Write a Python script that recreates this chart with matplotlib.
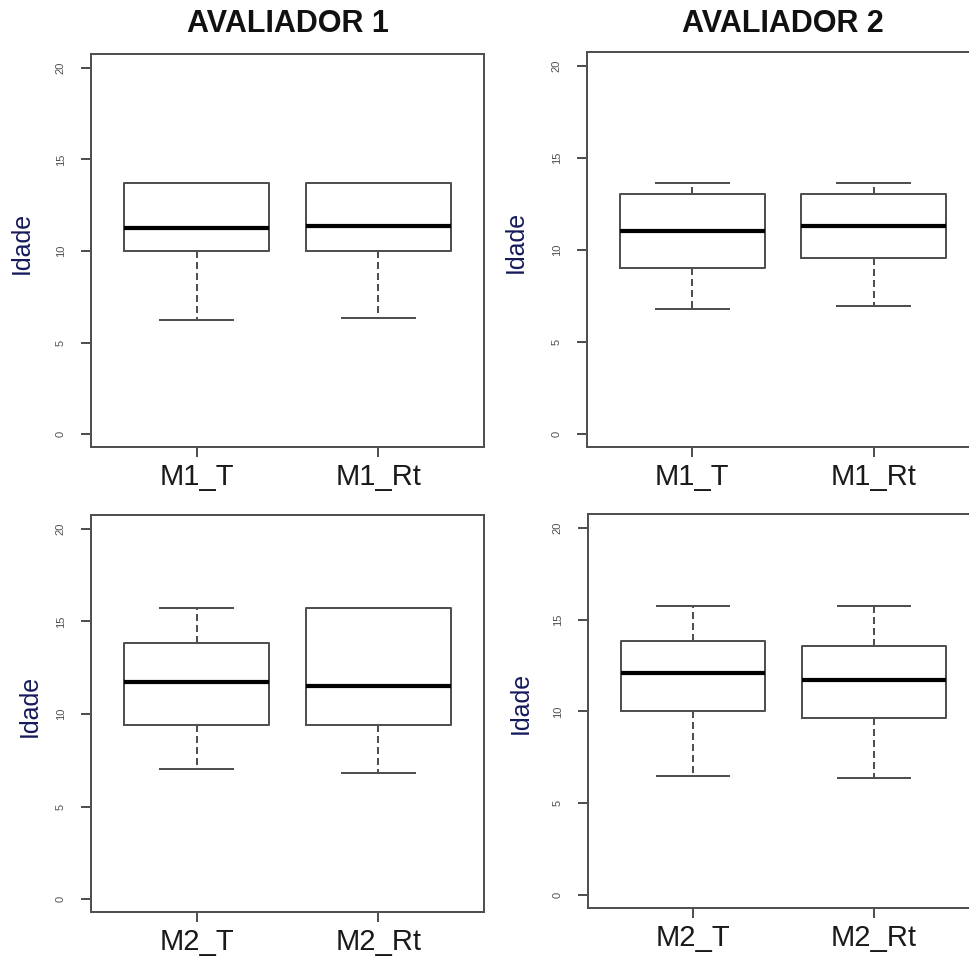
import matplotlib
matplotlib.use("Agg")
import matplotlib.pyplot as plt

plt.rcParams['font.family'] = ['Liberation Sans', 'DejaVu Sans']

W, H = 969, 959

# ---- data ----
titles = ["AVALIADOR 1", "AVALIADOR 2"]
labels_top = ["M1_T", "M1_Rt"]
labels_bottom = ["M2_T", "M2_Rt"]
y_label = "Idade"
y_ticks = [0, 5, 10, 15, 20]

# panel order: A1-M1, A2-M1, A1-M2, A2-M2
med = [[11.23, 11.38], [11.05, 11.28], [11.70, 11.53], [12.09, 11.71]]
q1 = [[10.0, 10.0], [9.02, 9.56], [9.43, 9.43], [10.0, 9.67]]
q3 = [[13.7, 13.7], [13.04, 13.04], [13.84, 15.72], [13.84, 13.57]]
whislo = [[6.25, 6.36], [6.79, 6.96], [7.04, 6.82], [6.51, 6.40]]
whishi = [[13.7, 13.7], [13.64, 13.64], [15.72, 15.72], [15.73, 15.73]]

# ---- layout (pixels) ----
panels_px = [  # left, top, right, bottom
    (91, 54, 484, 447),
    (587, 52, 979, 447),
    (91, 515, 484, 912),
    (588, 514, 979, 908),
]
ylab_x = [-0.145, -0.151, -0.125, -0.141]

fig = plt.figure(figsize=(W / 100, H / 100), dpi=100)
fig.patch.set_facecolor('white')

edge = '#505050'
px = 72 / 100.0  # points per pixel

for i, (l, t, r, b) in enumerate(panels_px):
    ax = fig.add_axes([l / W, 1 - b / H, (r - l) / W, (b - t) / H])
    stats = []
    xlabels = labels_top if i < 2 else labels_bottom
    for j in range(2):
        stats.append(dict(med=med[i][j], q1=q1[i][j], q3=q3[i][j],
                          whislo=whislo[i][j], whishi=whishi[i][j],
                          label=xlabels[j], fliers=[]))
    ax.bxp(stats, positions=[1, 2], widths=0.8, showfliers=False,
           boxprops=dict(color=edge, linewidth=2 * px),
           medianprops=dict(color='black', linewidth=4.2 * px, solid_capstyle='butt'),
           whiskerprops=dict(color=edge, linewidth=2 * px, linestyle=(0, (3.5, 2))),
           capprops=dict(color=edge, linewidth=2 * px))
    ax.set_xlim(0.42, 2.58)
    ax.set_ylim(-0.7, 20.75)
    ax.set_yticks(y_ticks)
    ax.set_yticklabels([str(v) for v in y_ticks])
    for s in ax.spines.values():
        s.set_color(edge)
        s.set_linewidth(2 * px)
    ax.tick_params(axis='y', direction='out', length=10 * px, width=2 * px,
                   color=edge, labelsize=8, labelcolor='#505050',
                   labelrotation=90, pad=11)
    ax.tick_params(axis='x', direction='out', length=10 * px, width=2 * px,
                   color=edge, labelsize=21, labelcolor='#1a1a1a', pad=4)
    for lab in ax.get_yticklabels():
        lab.set_verticalalignment('center')
    ax.set_ylabel(y_label, fontsize=18, color='#141a5a')
    ax.yaxis.set_label_coords(ylab_x[i], 0.52)
    if i < 2:
        cx = (l + r) / 2 / W
        fig.text(cx, 1 - 32 / H, titles[i], ha='center', va='baseline',
                 fontsize=22, fontweight='bold', color='#111111')

fig.savefig("out.png", dpi=100, facecolor='white')
